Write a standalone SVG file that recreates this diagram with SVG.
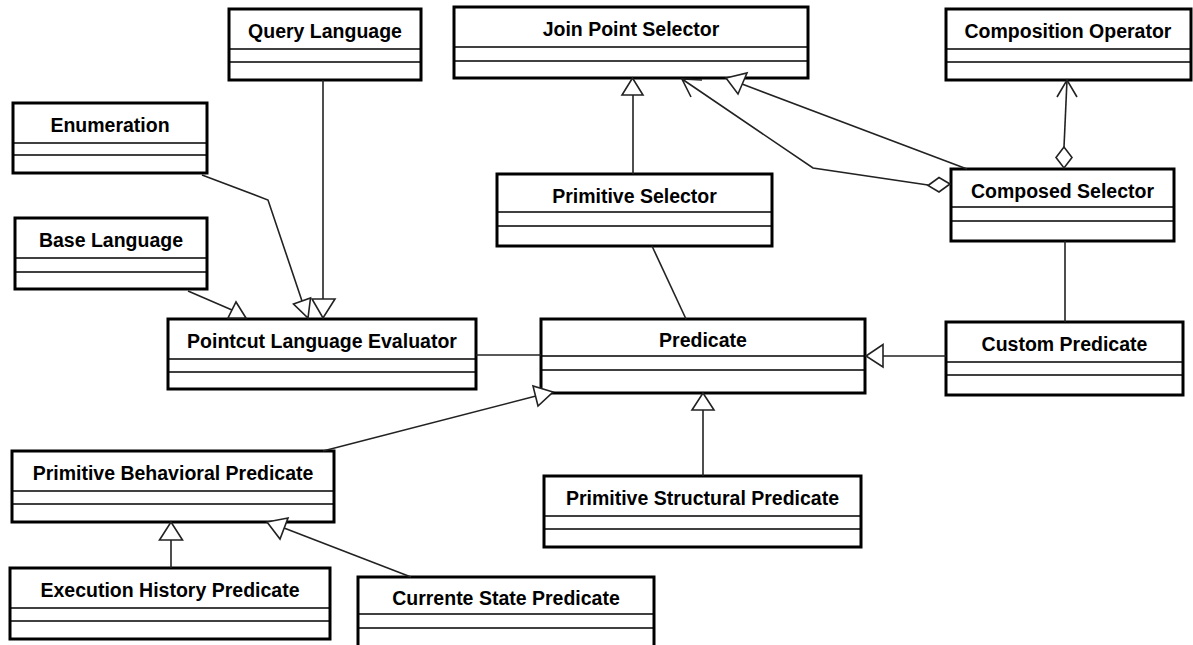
<svg xmlns="http://www.w3.org/2000/svg" width="1193" height="645" viewBox="0 0 1193 645">
  <style>
    .box { fill: #fff; stroke: #000; stroke-width: 3; }
    .div { stroke: #000; stroke-width: 1.5; }
    .title { font-family: "Liberation Sans", Arial, sans-serif; font-weight: bold; font-size: 19.5px; fill: #000; text-anchor: middle; }
    .edge { fill: none; stroke: #222; stroke-width: 1.6; }
    .head { fill: #fff; stroke: #222; stroke-width: 1.6; stroke-linejoin: miter; }
  </style>
  <rect width="1193" height="645" fill="#fff"/>

  <!-- classes -->
  <g id="query-language">
    <rect class="box" x="229" y="9" width="192" height="71"/>
    <line class="div" x1="229" y1="49" x2="421" y2="49"/>
    <line class="div" x1="229" y1="62" x2="421" y2="62"/>
    <text class="title" x="325" y="37.5">Query Language</text>
  </g>
  <g id="enumeration">
    <rect class="box" x="13" y="103" width="194" height="70"/>
    <line class="div" x1="13" y1="143" x2="207" y2="143"/>
    <line class="div" x1="13" y1="155" x2="207" y2="155"/>
    <text class="title" x="110" y="131.5">Enumeration</text>
  </g>
  <g id="base-language">
    <rect class="box" x="15" y="218" width="192" height="71"/>
    <line class="div" x1="15" y1="258" x2="207" y2="258"/>
    <line class="div" x1="15" y1="272" x2="207" y2="272"/>
    <text class="title" x="111" y="246.5">Base Language</text>
  </g>
  <g id="pointcut-language-evaluator">
    <rect class="box" x="168" y="319" width="308" height="70"/>
    <line class="div" x1="168" y1="359" x2="476" y2="359"/>
    <line class="div" x1="168" y1="372" x2="476" y2="372"/>
    <text class="title" x="322" y="347.5">Pointcut Language Evaluator</text>
  </g>
  <g id="join-point-selector">
    <rect class="box" x="454" y="7" width="354" height="71"/>
    <line class="div" x1="454" y1="47" x2="808" y2="47"/>
    <line class="div" x1="454" y1="61" x2="808" y2="61"/>
    <text class="title" x="631" y="35.5">Join Point Selector</text>
  </g>
  <g id="primitive-selector">
    <rect class="box" x="497" y="174" width="275" height="72"/>
    <line class="div" x1="497" y1="212" x2="772" y2="212"/>
    <line class="div" x1="497" y1="226" x2="772" y2="226"/>
    <text class="title" x="634.5" y="202.5">Primitive Selector</text>
  </g>
  <g id="composition-operator">
    <rect class="box" x="946" y="9" width="245" height="71"/>
    <line class="div" x1="946" y1="49" x2="1191" y2="49"/>
    <line class="div" x1="946" y1="62" x2="1191" y2="62"/>
    <text class="title" x="1068" y="37.5">Composition Operator</text>
  </g>
  <g id="composed-selector">
    <rect class="box" x="951" y="169" width="223" height="72"/>
    <line class="div" x1="951" y1="207" x2="1174" y2="207"/>
    <line class="div" x1="951" y1="221" x2="1174" y2="221"/>
    <text class="title" x="1062.5" y="197.5">Composed Selector</text>
  </g>
  <g id="predicate">
    <rect class="box" x="541" y="319" width="324" height="74"/>
    <line class="div" x1="541" y1="356" x2="865" y2="356"/>
    <line class="div" x1="541" y1="370" x2="865" y2="370"/>
    <text class="title" x="703" y="347">Predicate</text>
  </g>
  <g id="custom-predicate">
    <rect class="box" x="946" y="322" width="237" height="73"/>
    <line class="div" x1="946" y1="362" x2="1183" y2="362"/>
    <line class="div" x1="946" y1="375" x2="1183" y2="375"/>
    <text class="title" x="1064.5" y="350.5">Custom Predicate</text>
  </g>
  <g id="primitive-behavioral-predicate">
    <rect class="box" x="12" y="451" width="322" height="71"/>
    <line class="div" x1="12" y1="491" x2="334" y2="491"/>
    <line class="div" x1="12" y1="504" x2="334" y2="504"/>
    <text class="title" x="173" y="479.5">Primitive Behavioral Predicate</text>
  </g>
  <g id="primitive-structural-predicate">
    <rect class="box" x="544" y="476" width="317" height="71"/>
    <line class="div" x1="544" y1="516" x2="861" y2="516"/>
    <line class="div" x1="544" y1="529" x2="861" y2="529"/>
    <text class="title" x="702.5" y="504.5">Primitive Structural Predicate</text>
  </g>
  <g id="execution-history-predicate">
    <rect class="box" x="10" y="568" width="320" height="71"/>
    <line class="div" x1="10" y1="608" x2="330" y2="608"/>
    <line class="div" x1="10" y1="621" x2="330" y2="621"/>
    <text class="title" x="170" y="596.5">Execution History Predicate</text>
  </g>
  <g id="currente-state-predicate">
    <rect class="box" x="358" y="577" width="296" height="90"/>
    <line class="div" x1="358" y1="614" x2="654" y2="614"/>
    <line class="div" x1="358" y1="628" x2="654" y2="628"/>
    <text class="title" x="506" y="605">Currente State Predicate</text>
  </g>

  <!-- connectors, drawn over the class borders so the heads stay whole -->
  <g id="connectors">
    <!-- Query Language -> Pointcut Language Evaluator -->
    <line class="edge" x1="323" y1="80" x2="323" y2="299"/>
    <polygon class="head" points="312,299 335,299 323,318"/>
    <!-- Enumeration -> Pointcut Language Evaluator -->
    <polyline class="edge" points="202,175 268,200 302,301"/>
    <polygon class="head" points="293.5,304 310.5,298 308,318"/>
    <!-- Base Language -> Pointcut Language Evaluator -->
    <line class="edge" x1="188" y1="291" x2="232" y2="310"/>
    <polygon class="head" points="228,318 246,318 236,302"/>
    <!-- Primitive Selector -> Join Point Selector -->
    <line class="edge" x1="633" y1="174" x2="633" y2="95"/>
    <polygon class="head" points="622,95 643,95 632.5,78"/>
    <!-- Composed Selector -> Join Point Selector (generalization) -->
    <line class="edge" x1="967" y1="169" x2="742" y2="84"/>
    <polygon class="head" points="726,78 747,73 738,94"/>
    <!-- Composed Selector -> Join Point Selector (aggregation) -->
    <polyline class="edge" points="928,185 813,168 682,79"/>
    <polyline class="edge" points="702,80 682,79 691,97"/>
    <polygon class="head" points="950,184 939,177.5 928,185.5 939,192"/>
    <!-- Composed Selector -> Composition Operator (aggregation) -->
    <line class="edge" x1="1064" y1="147" x2="1067" y2="80"/>
    <polyline class="edge" points="1057,97 1067,80 1077,97"/>
    <polygon class="head" points="1064,147 1056,157.5 1064,168 1072,157.5"/>
    <!-- Primitive Selector - Predicate -->
    <line class="edge" x1="652" y1="246" x2="686" y2="319"/>
    <!-- Composed Selector - Custom Predicate -->
    <line class="edge" x1="1065" y1="241" x2="1065" y2="322"/>
    <!-- Pointcut Language Evaluator - Predicate -->
    <line class="edge" x1="476" y1="355" x2="541" y2="355"/>
    <!-- Custom Predicate -> Predicate -->
    <line class="edge" x1="946" y1="356" x2="883" y2="356"/>
    <polygon class="head" points="866,356 883,344.5 883,367"/>
    <!-- Primitive Behavioral Predicate -> Predicate -->
    <line class="edge" x1="323" y1="451" x2="536" y2="396"/>
    <polygon class="head" points="553,392 533,386 538,406"/>
    <!-- Primitive Structural Predicate -> Predicate -->
    <line class="edge" x1="703" y1="476" x2="703" y2="410"/>
    <polygon class="head" points="692,410 714,410 703,393"/>
    <!-- Execution History Predicate -> Primitive Behavioral Predicate -->
    <line class="edge" x1="171" y1="568" x2="171" y2="540"/>
    <polygon class="head" points="159.5,540 182.5,540 171,522"/>
    <!-- Currente State Predicate -> Primitive Behavioral Predicate -->
    <line class="edge" x1="411" y1="577" x2="284" y2="528"/>
    <polygon class="head" points="267,522 288,518 280,539"/>
  </g>
</svg>
